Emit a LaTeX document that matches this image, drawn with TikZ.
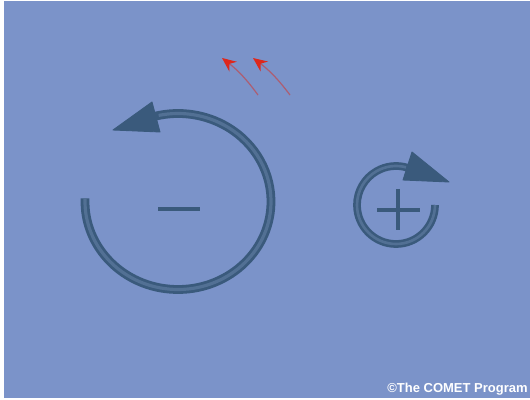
\documentclass[tikz,border=0pt]{standalone}
\usepackage{fontspec}
\setsansfont{Liberation Sans}
\usetikzlibrary{arrows.meta}
\definecolor{bgblue}{RGB}{123,147,201}
\definecolor{ringdark}{RGB}{58,90,124}
\definecolor{ringlight}{RGB}{82,112,148}
\definecolor{windred}{RGB}{222,40,28}
\begin{document}
\begin{tikzpicture}[x=0.02cm,y=0.02cm,
  ring/.style={line width=5pt,draw=ringdark},
  ringcore/.style={line width=1.8pt,draw=ringlight},
  head/.style={fill=ringdark,draw=ringdark,line join=round,line width=0.5pt},
  sign/.style={line width=2.6pt,draw=ringdark},
  wind/.style={draw=windred!50!bgblue,line width=0.7pt,
    -{Stealth[length=8pt,width=7pt,color=windred]}}]
\fill[white] (0,0) rectangle (530,399);
\fill[bgblue] (4,1) rectangle (530,398);
% low
\coordinate (lowc) at (178,197.5);
\draw[ring] (lowc) ++(178:93 and 88) arc[start angle=178,end angle=464.5,x radius=93,y radius=88];
\draw[ringcore] (lowc) ++(178:93 and 88) arc[start angle=178,end angle=462,x radius=93,y radius=88];
\fill[head] (113,269) -- (152,297) -- (160,267) -- cycle;
\draw[sign] (158,190) -- (200,190);
% high
\coordinate (highc) at (396,194);
\draw[ring,line width=4.4pt] (highc) ++(0:39) arc[start angle=0,end angle=-287,radius=39];
\draw[ringcore,line width=1.5pt] (highc) ++(0:39) arc[start angle=0,end angle=-285,radius=39];
\fill[head] (449,217) -- (412,247) -- (403,219) -- cycle;
\draw[sign] (377,189) -- (420,189);
\draw[sign] (398,210) -- (398,169);
% wind
\coordinate (w1a) at (258,304);
\coordinate (w1b) at (222,341);
\coordinate (w2a) at (290,304);
\coordinate (w2b) at (253,341);
\draw[wind] (w1a) to[bend right=8] (w1b);
\draw[wind] (w2a) to[bend right=8] (w2b);
\node[anchor=base east,text=white,inner sep=0,
  font=\sffamily\bfseries\fontsize{7.4}{8}\selectfont] (credit) at (528,7) {\textcopyright The COMET Program};
\end{tikzpicture}
\end{document}
